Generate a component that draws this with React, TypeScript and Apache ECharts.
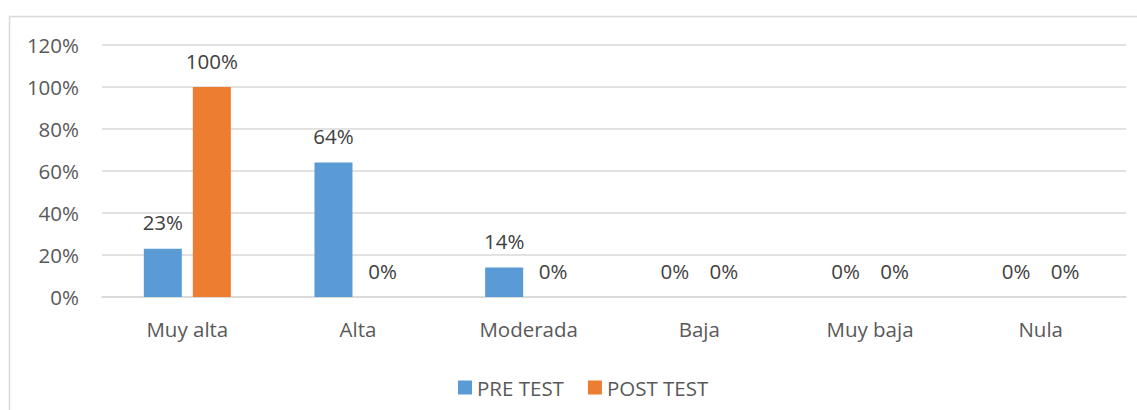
import React, { useEffect, useRef } from "react";
import * as echarts from "echarts";

const categories = ["Muy alta", "Alta", "Moderada", "Baja", "Muy baja", "Nula"];
const preTest = [23, 64, 14, 0, 0, 0];
const postTest = [100, 0, 0, 0, 0, 0];
const seriesNames = ["PRE TEST", "POST TEST"];

const FONT = "'Open Sans', 'Noto Sans', sans-serif";
const FS = 20.5;

export default function App() {
  const ref = useRef<HTMLDivElement>(null);
  useEffect(() => {
    if (!ref.current) return;
    const chart = echarts.init(ref.current, undefined, { renderer: "svg" });
    const label = {
      show: true,
      position: "top",
      distance: 16,
      formatter: "{c}%",
      color: "#404040",
      fontSize: FS,
      fontFamily: FONT,
    };
    chart.setOption({
      animation: false,
      backgroundColor: "#ffffff",
      textStyle: { fontFamily: FONT },
      graphic: [
        {
          type: "rect",
          shape: { x: 9.5, y: 16.5, width: 1300, height: 600 },
          style: { fill: "none", stroke: "#d9d9d9", lineWidth: 1.5 },
          silent: true,
          z: -10,
        },
      ],
      grid: { left: 102, right: 11, top: 45, bottom: 113, containLabel: false },
      legend: {
        data: seriesNames,
        left: 453,
        top: 372,
        itemWidth: 14,
        itemHeight: 14,
        itemGap: 24,
        icon: "rect",
        textStyle: { color: "#595959", fontSize: FS, fontFamily: FONT },
      },
      xAxis: {
        type: "category",
        data: categories,
        axisLine: { show: true, lineStyle: { color: "#d9d9d9", width: 1.5 } },
        axisTick: { show: false },
        axisLabel: { color: "#595959", fontSize: FS, fontFamily: FONT, margin: 21 },
      },
      yAxis: {
        type: "value",
        min: 0,
        max: 120,
        interval: 20,
        axisLine: { show: false },
        axisTick: { show: false },
        splitLine: { lineStyle: { color: "#d9d9d9", width: 1.5 } },
        axisLabel: {
          formatter: "{value}%",
          color: "#595959",
          fontSize: FS,
          fontFamily: FONT,
          margin: 23,
        },
      },
      series: [
        {
          name: seriesNames[0],
          type: "bar",
          data: preTest,
          barWidth: 38,
          barGap: "29%",
          itemStyle: { color: "#5B9BD5" },
          label,
        },
        {
          name: seriesNames[1],
          type: "bar",
          data: postTest,
          barWidth: 38,
          barGap: "29%",
          itemStyle: { color: "#ED7D31" },
          label,
        },
      ],
    });
    return () => chart.dispose();
  }, []);
  return (
    <div
      ref={ref}
      style={{ position: "absolute", left: 0, top: 0, width: 1137, height: 410 }}
    />
  );
}
